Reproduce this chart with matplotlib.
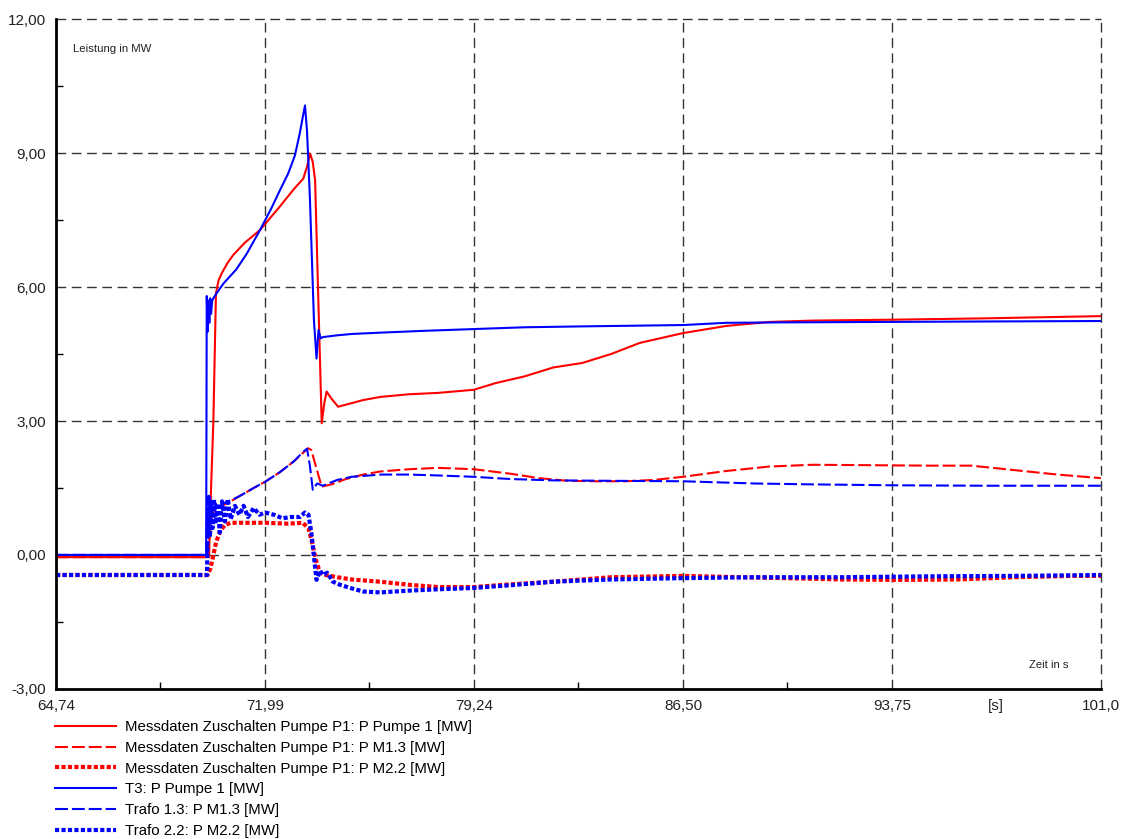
import matplotlib
matplotlib.use("Agg")
import matplotlib.pyplot as plt

plt.rcParams['font.family'] = ['Liberation Sans', 'DejaVu Sans']

# Messdaten Zuschalten Pumpe P1: P Pumpe 1
mess_p1_t = [64.74, 70.05, 70.12, 70.2, 70.29, 70.38, 70.49, 70.7, 70.89, 71.3, 71.82, 72.5, 73.0,
             73.32, 73.45, 73.56, 73.65, 73.73, 73.84, 73.96, 74.05, 74.13, 74.3, 74.53, 75.0, 75.4,
             76.0, 77.0, 78.0, 79.24, 80.0, 81.0, 82.0, 83.0, 84.0, 85.0, 86.5, 88.0, 89.5, 91.0,
             93.75, 97.0, 101.0]
mess_p1 = [-0.05, -0.05, 1.5, 3.0, 5.86, 6.15, 6.31, 6.55, 6.72, 7.0, 7.28, 7.8, 8.2,
           8.43, 8.7, 8.99, 8.8, 8.4, 5.78, 2.95, 3.4, 3.66, 3.5, 3.32, 3.4, 3.47,
           3.54, 3.6, 3.63, 3.7, 3.85, 4.0, 4.2, 4.3, 4.5, 4.75, 4.97, 5.13, 5.22, 5.25,
           5.27, 5.3, 5.35]

# Messdaten Zuschalten Pumpe P1: P M1.3
mess_m13_t = [64.74, 70.0, 70.05, 70.15, 70.3, 70.5, 70.8, 71.2, 71.6, 72.0, 72.5, 73.0, 73.3,
              73.49, 73.6, 73.75, 73.96, 74.3, 74.8, 75.4, 76.0, 77.0, 78.0, 79.24, 80.5, 81.5,
              82.5, 83.5, 84.5, 85.5, 86.5, 88.0, 89.5, 91.0, 93.0, 95.0, 96.5, 98.0, 99.5, 101.0]
mess_m13 = [-0.05, -0.05, 0.3, 0.9, 1.05, 1.1, 1.2, 1.35, 1.5, 1.64, 1.85, 2.1, 2.28,
            2.39, 2.35, 2.0, 1.53, 1.58, 1.7, 1.8, 1.87, 1.92, 1.95, 1.92, 1.82, 1.72,
            1.66, 1.65, 1.65, 1.68, 1.75, 1.88, 1.98, 2.02, 2.01, 2.0, 2.0, 1.9, 1.8, 1.72]

# Messdaten Zuschalten Pumpe P1: P M2.2
mess_m22_t = [64.74, 70.0, 70.1, 70.2, 70.3, 70.45, 70.6, 70.8, 71.2, 72.0, 72.8, 73.3, 73.5,
              73.62, 73.75, 73.9, 74.1, 74.5, 75.0, 75.98, 77.0, 78.0, 79.24, 80.5, 82.0, 84.0,
              86.5, 88.5, 90.0, 92.0, 94.0, 96.0, 98.0, 100.0, 101.0]
mess_m22 = [-0.45, -0.45, -0.3, 0.0, 0.3, 0.55, 0.67, 0.72, 0.72, 0.72, 0.7, 0.72, 0.6,
            0.3, -0.1, -0.4, -0.45, -0.5, -0.55, -0.6, -0.67, -0.72, -0.72, -0.66, -0.6, -0.5,
            -0.47, -0.5, -0.52, -0.55, -0.56, -0.55, -0.5, -0.47, -0.47]

# T3: P Pumpe 1
t3_p1_t = [64.74, 69.95, 69.97, 70.0, 70.03, 70.06, 70.09, 70.12, 70.16, 70.2, 70.3, 70.43, 70.55,
           71.0, 71.36, 71.82, 72.2, 72.51, 72.8, 73.03, 73.2, 73.3, 73.38, 73.45, 73.55, 73.69,
           73.78, 73.85, 73.92, 74.0, 74.5, 75.0, 76.0, 77.5, 79.24, 81.0, 83.0, 86.5, 88.0,
           90.0, 93.75, 97.0, 101.0]
t3_p1 = [0.0, 0.0, 5.8, 5.0, 5.7, 5.2, 5.75, 5.4, 5.7, 5.75, 5.85, 5.97, 6.08,
         6.4, 6.75, 7.28, 7.75, 8.17, 8.55, 8.95, 9.45, 9.8, 10.07, 9.5, 8.0, 5.26,
         4.4, 5.04, 4.85, 4.88, 4.92, 4.95, 4.98, 5.02, 5.06, 5.1, 5.12, 5.15, 5.2,
         5.21, 5.22, 5.23, 5.24]

# Trafo 1.3: P M1.3
trafo_m13_t = [64.74, 70.0, 70.02, 70.06, 70.1, 70.14, 70.18, 70.22, 70.28, 70.35, 70.45, 70.55,
               70.7, 70.9, 71.2, 71.6, 72.0, 72.5, 73.0, 73.3, 73.45, 73.55, 73.65, 73.8, 74.0,
               74.5, 75.0, 76.0, 77.0, 78.0, 79.24, 80.5, 82.0, 84.0, 86.5, 89.0, 91.0, 93.75,
               97.0, 101.0]
trafo_m13 = [0.0, 0.0, 1.3, 0.8, 1.25, 0.9, 1.2, 1.0, 1.15, 1.05, 1.1, 1.15,
             1.2, 1.25, 1.35, 1.5, 1.64, 1.85, 2.1, 2.3, 2.38, 2.0, 1.46, 1.6, 1.55,
             1.68, 1.75, 1.8, 1.8, 1.78, 1.75, 1.7, 1.67, 1.66, 1.65, 1.6, 1.58, 1.56,
             1.55, 1.55]

# Trafo 2.2: P M2.2
trafo_m22_t = [64.74, 69.98, 70.0, 70.04, 70.08, 70.12, 70.17, 70.22, 70.28, 70.35, 70.42, 70.5,
               70.6, 70.7, 70.8, 70.95, 71.1, 71.25, 71.4, 71.6, 71.8, 72.0, 72.3, 72.6, 72.9,
               73.2, 73.38, 73.5, 73.6, 73.7, 73.78, 73.9, 74.0, 74.15, 74.35, 74.6, 75.0, 75.4,
               76.0, 77.0, 78.0, 79.24, 80.5, 82.0, 84.0, 86.5, 89.0, 92.0, 95.0, 98.0, 101.0]
trafo_m22 = [-0.45, -0.45, 0.6, 1.3, 0.4, 1.2, 0.6, 1.25, 0.7, 1.15, 0.5, 1.2,
             0.75, 1.25, 0.8, 1.1, 0.9, 1.1, 0.85, 1.05, 0.9, 0.95, 0.9, 0.82, 0.85,
             0.85, 0.95, 0.9, 0.5, -0.1, -0.56, -0.35, -0.45, -0.4, -0.6, -0.67, -0.75, -0.82,
             -0.84, -0.8, -0.77, -0.74, -0.68, -0.6, -0.55, -0.52, -0.5, -0.5, -0.48, -0.47, -0.45]

labels = ["Messdaten Zuschalten Pumpe P1: P Pumpe 1 [MW]",
          "Messdaten Zuschalten Pumpe P1: P M1.3 [MW]",
          "Messdaten Zuschalten Pumpe P1: P M2.2 [MW]",
          "T3: P Pumpe 1 [MW]",
          "Trafo 1.3: P M1.3 [MW]",
          "Trafo 2.2: P M2.2 [MW]"]

x_ticks = [64.74, 71.99, 79.24, 86.50, 93.75, 97.375, 101.0]
x_ticklabels = ["64,74", "71,99", "79,24", "86,50", "93,75", "[s]", "101,0"]
y_ticks = [-3, 0, 3, 6, 9, 12]
y_ticklabels = ["-3,00", "0,00", "3,00", "6,00", "9,00", "12,00"]

RED = "#ff0000"
BLUE = "#0000ff"

fig = plt.figure(figsize=(11.21, 8.39), dpi=100)
ax = fig.add_axes([0.05, 0.179, 0.932, 0.798])

# grid lines (none at the [s] tick)
for xv in [71.99, 79.24, 86.50, 93.75, 101.0]:
    ax.axvline(xv, color="#333333", lw=1.0, dashes=(7, 4), zorder=1, clip_on=False)
for yv in [0, 3, 6, 9, 12]:
    ax.axhline(yv, color="#333333", lw=1.0, dashes=(7, 4), zorder=1, clip_on=False)

dash_m13 = (6.2, 1.9)
dot_m22 = (1.0, 0.55)

l1, = ax.plot(mess_p1_t, mess_p1, color=RED, lw=1.5, label=labels[0])
l2, = ax.plot(mess_m13_t, mess_m13, color=RED, lw=1.5, dashes=dash_m13, label=labels[1])
l3, = ax.plot(mess_m22_t, mess_m22, color=RED, lw=3.0, dashes=dot_m22, label=labels[2])
l4, = ax.plot(t3_p1_t, t3_p1, color=BLUE, lw=1.5, label=labels[3])
l5, = ax.plot(trafo_m13_t, trafo_m13, color=BLUE, lw=1.5, dashes=dash_m13, label=labels[4])
l6, = ax.plot(trafo_m22_t, trafo_m22, color=BLUE, lw=3.0, dashes=dot_m22, label=labels[5])

ax.set_xlim(64.74, 101.0)
ax.set_ylim(-3, 12)

ax.set_xticks(x_ticks)
ax.set_xticklabels(x_ticklabels)
ax.set_yticks(y_ticks)
ax.set_yticklabels(y_ticklabels)
ax.set_xticks([68.365, 75.615, 82.87, 90.125, 97.375], minor=True)
ax.set_yticks([-1.5, 1.5, 4.5, 7.5, 10.5], minor=True)
ax.tick_params(which="major", length=0, labelsize=11, labelcolor="#222222")
ax.tick_params(axis="x", which="major", pad=7)
ax.tick_params(axis="y", which="major", pad=7)
ax.tick_params(which="minor", direction="in", length=5, width=1, color="black")

for s in ["top", "right"]:
    ax.spines[s].set_visible(False)
for s in ["left", "bottom"]:
    ax.spines[s].set_linewidth(2)

ax.text(0.016, 0.955, "Leistung in MW", transform=ax.transAxes, fontsize=8.2, color="#222222",
        va="center", ha="left")
ax.text(0.969, 0.036, "Zeit in s", transform=ax.transAxes, fontsize=8.1, color="#222222",
        va="center", ha="right")

fig.legend(handles=[l1, l2, l3, l4, l5, l6], loc="upper left", bbox_to_anchor=(0.049, 0.1418),
           frameon=False, fontsize=10.8, handlelength=4.1, handletextpad=0.55,
           labelspacing=0.45, borderpad=0, borderaxespad=0)

fig.savefig("out.png", dpi=100)
